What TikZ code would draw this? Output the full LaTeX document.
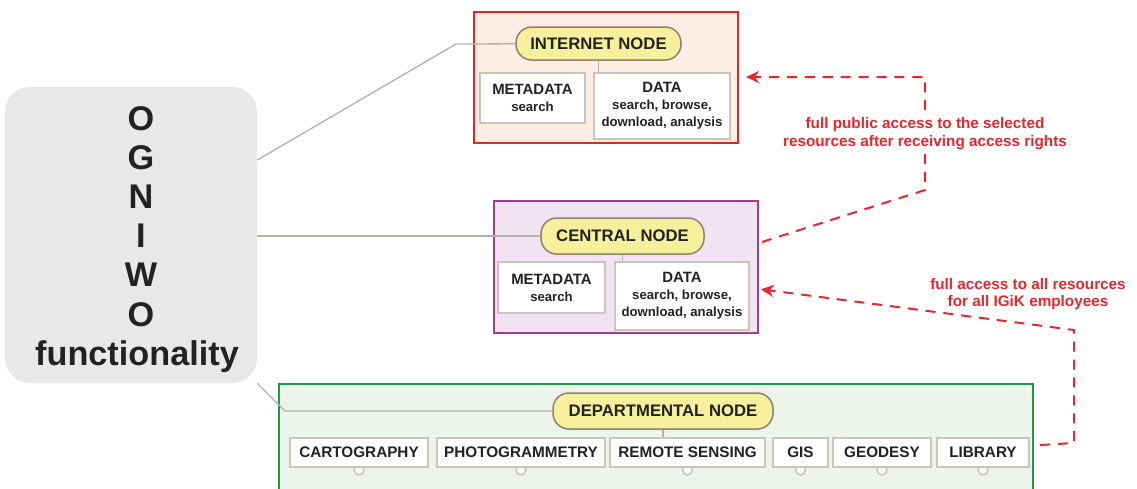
\documentclass[tikz,border=0pt]{standalone}
\usepackage{fontspec}
\setmainfont{Liberation Sans}
\usetikzlibrary{arrows.meta}

\newlength\pxu
\setlength\pxu{0.02cm}

\definecolor{ognbg}{HTML}{E8E8E6}
\definecolor{inetbg}{HTML}{FCEEE5}
\definecolor{inetred}{HTML}{E42528}
\definecolor{centbg}{HTML}{F1E3F1}
\definecolor{centpurple}{HTML}{A33D8C}
\definecolor{deptbg}{HTML}{EEF3EC}
\definecolor{deptgreen}{HTML}{1E9B45}
\definecolor{pillfill}{HTML}{F6EF9C}
\definecolor{pillline}{HTML}{8C8470}
\definecolor{boxline}{HTML}{C9C6C0}
\definecolor{linkgray}{HTML}{B5B0AA}
\definecolor{accred}{HTML}{E8262C}
\definecolor{inktxt}{HTML}{222222}

\newcommand{\subtxt}[1]{{\fontsize{7.5}{8.6}\selectfont #1}}

\tikzset{
  frame/.style={line width=2\pxu, inner sep=0pt},
  pill/.style={draw=pillline, fill=pillfill, line width=1.5\pxu, rounded corners=9pt,
    inner sep=0pt, text=inktxt, font=\fontsize{9.5}{11}\selectfont\bfseries},
  infobox/.style={draw=boxline, fill=white, line width=1.5\pxu, inner sep=0pt,
    align=center, text=inktxt, font=\fontsize{8.5}{9.6}\selectfont\bfseries},
  deptbox/.style={infobox, minimum height=29\pxu, font=\fontsize{8.7}{10}\selectfont\bfseries},
  knob/.style={draw=boxline, fill=white, line width=1.5\pxu},
  link/.style={draw=linkgray, line width=1.3\pxu},
  access/.style={draw=accred, line width=2\pxu, dash pattern=on 5.7pt off 4.5pt,
    -{Stealth[length=7.4pt,width=6.8pt]}},
  accesstxt/.style={text=accred, align=center, inner sep=1pt,
    font=\fontsize{8.7}{10.2}\selectfont\bfseries},
  bigtxt/.style={text=inktxt, inner sep=0pt, font=\fontsize{19.5}{22}\selectfont\bfseries}
}

\begin{document}
\begin{tikzpicture}[x=0.02cm,y=-0.02cm]
  \useasboundingbox (0,0) rectangle (1137,488);

  % OGNIWO block
  \node[fill=ognbg, rounded corners=14pt, minimum width=252\pxu, minimum height=296\pxu] (ogniwo) at (131,235) {};
  \foreach \ch [count=\i from 0] in {O,G,N,I,W,O}
    \node[bigtxt, anchor=base] (letter\i) at (141,{130+39.2*\i}) {\ch};
  \node[bigtxt, anchor=base] (functxt) at (137,365) {functionality};

  % frames
  \node[frame, draw=inetred, fill=inetbg, minimum width=264\pxu, minimum height=131\pxu] (inetframe) at (606,77.5) {};
  \node[frame, draw=centpurple, fill=centbg, minimum width=264\pxu, minimum height=132\pxu] (centframe) at (626,267) {};
  \node[frame, draw=deptgreen, fill=deptbg, minimum width=754\pxu, minimum height=116\pxu] (deptframe) at (656,442) {};

  % node pills
  \node[pill, minimum width=165\pxu, minimum height=33\pxu] (inet) at (598.5,43.5) {INTERNET NODE};
  \node[pill, minimum width=163\pxu, minimum height=36\pxu] (cent) at (622.5,236) {CENTRAL NODE};
  \node[pill, minimum width=220\pxu, minimum height=36\pxu] (dept) at (663,411) {DEPARTMENTAL NODE};

  % links from OGNIWO
  \draw[link] (ogniwo.east |- 0,160) -- (456,44) -- (inet);
  \draw[link] (ogniwo.east |- cent) -- (cent);
  \draw[link] (ogniwo.south east) -- (285,411) -- (dept);

  % internet node
  \node[infobox, minimum width=105\pxu, minimum height=50\pxu] (imeta) at (532.5,98) {METADATA\\\subtxt{search}};
  \node[infobox, minimum width=136\pxu, minimum height=66\pxu] (idata) at (662,106) {DATA\\\subtxt{search, browse,}\\\subtxt{download, analysis}};
  \draw[link] (inet.south) -- (inet.south |- idata.north);

  % central node
  \node[infobox, minimum width=107\pxu, minimum height=51\pxu] (cmeta) at (551.5,287.5) {METADATA\\\subtxt{search}};
  \node[infobox, minimum width=134\pxu, minimum height=68\pxu] (cdata) at (682,296) {DATA\\\subtxt{search, browse,}\\\subtxt{download, analysis}};
  \draw[link] (cent.south) -- (cent.south |- cdata.north);

  % departmental node
  \foreach \nm/\cx/\w/\txt in {carto/359/138/CARTOGRAPHY, photo/521/168/PHOTOGRAMMETRY,
      rsens/687.5/155/REMOTE SENSING, gis/800.5/55/GIS, geod/882/98/GEODESY, lib/983/92/LIBRARY} {
    \draw[knob] (\cx,470) circle (5);
    \node[deptbox, minimum width=\w\pxu] (\nm) at (\cx,452.5) {\txt};
  }
  \draw[link] (dept.south) -- (dept.south |- rsens.north);

  % access rights
  \coordinate (pubstart) at (762,242);
  \coordinate (empstart) at (1040,445);
  \draw[access, shorten >=4pt] (pubstart) -- (925,190) -- (925,77) -- (inetframe.east |- 0,77);
  \node[accesstxt, fill=white] (pubtxt) at (925,134) {full public access to the selected\\resources after receiving access rights};
  \draw[access, shorten >=1pt] (empstart) -- (1074,443) -- (1074,330) -- (centframe.east |- 0,289);
  \node[accesstxt] (emptxt) at (1028,294) {full access to all resources\\for all IGiK employees};
\end{tikzpicture}
\end{document}
